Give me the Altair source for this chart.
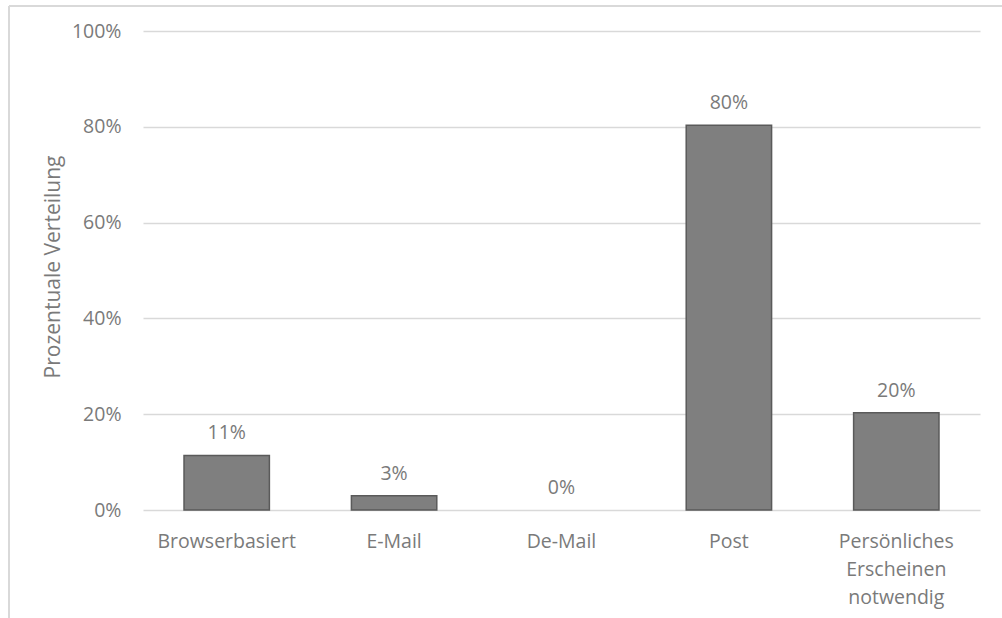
import altair as alt
import pandas as pd

categories = ["Browserbasiert", "E-Mail", "De-Mail", "Post", "Persönliches Erscheinen notwendig"]
shares = [0.114, 0.030, 0.0, 0.803, 0.203]
y_ticks = [0, 0.2, 0.4, 0.6, 0.8, 1.0]

df = pd.DataFrame({"Kategorie": categories, "Anteil": shares})

W, H = 837, 479
PAD_L, PAD_T, PAD_R, PAD_B = 143, 31, 22, 108
FONT = "Open Sans"
TXT = "#7a7a7a"
FS = 19.5

x_enc = alt.X(
    "Kategorie:N",
    sort=categories,
    scale=alt.Scale(paddingInner=0.49, paddingOuter=0.245),
    axis=alt.Axis(
        title=None,
        labelAngle=0,
        labelFontSize=FS,
        labelFont=FONT,
        labelColor=TXT,
        labelPadding=31,
        labelLineHeight=28,
        labelBaseline="middle",
        ticks=False,
        domain=False,
        labelExpr="datum.label == 'Persönliches Erscheinen notwendig' ? ['Persönliches','Erscheinen','notwendig'] : datum.label",
    ),
)

bars = alt.Chart(df).mark_bar(
    color="#7f7f7f", stroke="#5a5a5a", strokeWidth=1.5
).encode(
    x=x_enc,
    y=alt.Y(
        "Anteil:Q",
        scale=alt.Scale(domain=[0, 1], nice=False),
        axis=alt.Axis(
            title="Prozentuale Verteilung",
            titleFont=FONT,
            titleFontSize=21,
            titleFontWeight="normal",
            titleColor=TXT,
            titlePadding=8,
            titleY=H / 2 - 4,
            values=y_ticks,
            format=".0%",
            labelFont=FONT,
            labelFontSize=FS,
            labelColor=TXT,
            labelPadding=22,
            ticks=False,
            domain=False,
            grid=True,
            gridColor="#d9d9d9",
            gridWidth=1.3,
        ),
    ),
    strokeOpacity=alt.condition("datum.Anteil > 0", alt.value(1), alt.value(0)),
)

labels = alt.Chart(df).mark_text(
    baseline="middle", dy=-22, font=FONT, fontSize=FS, color=TXT
).encode(
    x=alt.X("Kategorie:N", sort=categories),
    y="Anteil:Q",
    text=alt.Text("Anteil:Q", format=".0%"),
)

frame_left = alt.Chart(df).mark_rule(color="#d9d9d9", strokeWidth=2).encode(
    x=alt.value(-134), y=alt.value(-25), y2=alt.value(H + PAD_B)
)
frame_top = alt.Chart(df).mark_rule(color="#d9d9d9", strokeWidth=2).encode(
    x=alt.value(-134), x2=alt.value(W + PAD_R), y=alt.value(-25)
)

chart = alt.layer(bars, labels, frame_left, frame_top).properties(
    width=W,
    height=H,
    padding={"left": PAD_L, "top": PAD_T, "right": PAD_R, "bottom": PAD_B},
    autosize=alt.AutoSizeParams(type="none"),
    background="white",
).configure_view(stroke=None)

chart.save("out.html", embed_options={"renderer": "svg", "actions": False})
